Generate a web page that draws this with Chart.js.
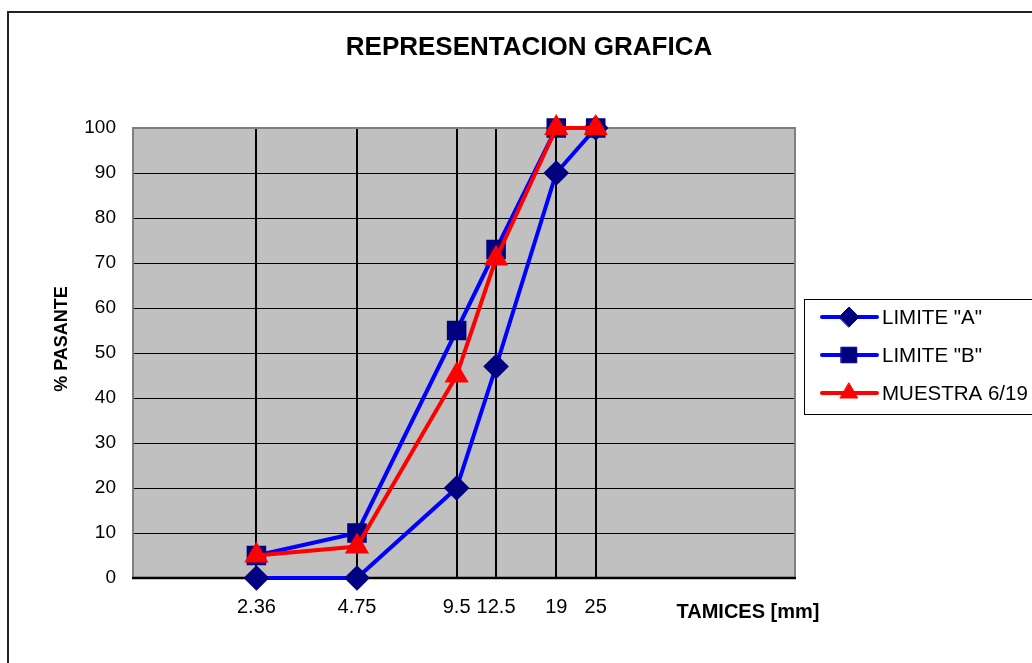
<!DOCTYPE html>
<html>
<head>
<meta charset="utf-8">
<script src="https://cdn.jsdelivr.net/npm/chart.js@4"></script>
<style>
html,body{margin:0;padding:0;background:#fff;}
#wrap{width:1032px;height:663px;position:relative;}
</style>
</head>
<body>
<div id="wrap"><canvas id="c" width="1032" height="663"></canvas></div>
<script>
const chartTitle = 'REPRESENTACION GRAFICA';
const xTitle = 'TAMICES [mm]';
const yTitle = '% PASANTE';
const sieves = [2.36, 4.75, 9.5, 12.5, 19, 25];
const sieveLabels = ['2.36', '4.75', '9.5', '12.5', '19', '25'];
const limiteA = [0, 0, 20, 47, 90, 100];
const limiteB = [5, 10, 55, 73, 100, 100];
const muestra = [5, 7, 45, 71, 100, 100];
const seriesNames = ['LIMITE "A"', 'LIMITE "B"', 'MUESTRA 6/19'];

const toPts = arr => sieves.map((s, i) => ({x: s, y: arr[i]}));
const FONT = '"Liberation Sans", Arial, sans-serif';

const decor = {
  id: 'decor',
  beforeDraw(chart) {
    const {ctx, chartArea: a} = chart;
    ctx.save();
    ctx.fillStyle = '#fff';
    ctx.fillRect(0, 0, chart.width, chart.height);
    ctx.fillStyle = '#C0C0C0';
    ctx.fillRect(a.left, a.top, a.right - a.left, a.bottom - a.top);
    ctx.restore();
  },
  beforeDatasetsDraw(chart) {
    const {ctx, chartArea: a} = chart;
    ctx.save();
    ctx.strokeStyle = '#808080';
    ctx.lineWidth = 2;
    ctx.beginPath();
    ctx.moveTo(a.left, a.bottom);
    ctx.lineTo(a.left, a.top);
    ctx.lineTo(a.right, a.top);
    ctx.lineTo(a.right, a.bottom);
    ctx.stroke();
    ctx.strokeStyle = '#000';
    ctx.lineWidth = 2.5;
    ctx.beginPath();
    ctx.moveTo(a.left - 1, a.bottom);
    ctx.lineTo(a.right + 1, a.bottom);
    ctx.stroke();
    ctx.restore();
  },
  afterDraw(chart) {
    const {ctx} = chart;
    ctx.save();
    ctx.strokeStyle = '#222';
    ctx.lineWidth = 2;
    ctx.strokeRect(8, 12, 1040, 670);
    ctx.fillStyle = '#000';
    ctx.font = 'bold 26px ' + FONT;
    ctx.textAlign = 'center';
    ctx.textBaseline = 'middle';
    ctx.fillText(chartTitle, 529, 48);
    ctx.font = 'bold 20px ' + FONT;
    ctx.fillText(xTitle, 748, 612);
    ctx.save();
    ctx.translate(62, 339);
    ctx.rotate(-Math.PI / 2);
    ctx.font = 'bold 18px ' + FONT;
    ctx.fillText(yTitle, 0, 0);
    ctx.restore();
    const lx = 804, ly = 299, lw = 240, lh = 115;
    ctx.fillStyle = '#fff';
    ctx.fillRect(lx, ly, lw, lh);
    ctx.strokeStyle = '#000';
    ctx.lineWidth = 1;
    ctx.strokeRect(lx + 0.5, ly + 0.5, lw, lh);
    const rows = [317, 355, 393];
    chart.data.datasets.forEach((ds, i) => {
      const y = rows[i];
      ctx.strokeStyle = ds.borderColor;
      ctx.lineWidth = 4;
      ctx.lineCap = 'round';
      ctx.beginPath();
      ctx.moveTo(822, y);
      ctx.lineTo(877, y);
      ctx.stroke();
      ctx.fillStyle = ds.pointBackgroundColor;
      ctx.strokeStyle = ds.pointBorderColor;
      ctx.lineWidth = 1;
      Chart.helpers.drawPoint(ctx, {pointStyle: ds.pointStyle, radius: ds.pointRadius, rotation: 0, borderWidth: 1}, 849, y);
      ctx.fillStyle = '#000';
      ctx.font = '20.5px ' + FONT;
      ctx.textAlign = 'left';
      ctx.textBaseline = 'middle';
      ctx.fillText(ds.label, 882, y + 1);
    });
    ctx.restore();
  }
};

new Chart(document.getElementById('c'), {
  type: 'line',
  data: {
    datasets: [
      {label: seriesNames[0], data: toPts(limiteA), borderColor: '#0000FF', borderWidth: 4,
       pointStyle: 'rectRot', pointRadius: 10, pointBackgroundColor: '#000080', pointBorderColor: '#000080',
       order: 2, clip: false},
      {label: seriesNames[1], data: toPts(limiteB), borderColor: '#0000FF', borderWidth: 4,
       pointStyle: 'rect', pointRadius: 11, pointBackgroundColor: '#000080', pointBorderColor: '#000080',
       order: 1, clip: false},
      {label: seriesNames[2], data: toPts(muestra), borderColor: '#FF0000', borderWidth: 4,
       pointStyle: 'triangle', pointRadius: 10, pointBackgroundColor: '#FF0000', pointBorderColor: '#FF0000',
       order: 0, clip: false}
    ]
  },
  options: {
    responsive: false,
    animation: false,
    layout: {padding: {top: 128, right: 237, bottom: 0, left: 0}},
    plugins: {legend: {display: false}, title: {display: false}, tooltip: {enabled: false}},
    scales: {
      x: {
        type: 'logarithmic', min: 1, max: 100,
        afterBuildTicks: s => { s.ticks = sieves.map(v => ({value: v})); },
        afterFit: s => { s.height = 85; },
        ticks: {
          autoSkip: false, maxRotation: 0, padding: 17, color: '#000',
          font: {family: FONT, size: 20},
          callback: (v) => { const i = sieves.indexOf(v); return i >= 0 ? sieveLabels[i] : ''; }
        },
        grid: {color: '#000', lineWidth: 2, drawTicks: false},
        border: {display: false}
      },
      y: {
        min: 0, max: 100,
        afterFit: s => { s.width = 133; },
        ticks: {
          stepSize: 10, padding: 17, color: '#000',
          font: {family: FONT, size: 19}
        },
        grid: {color: '#000', lineWidth: 1, drawTicks: false},
        border: {display: false}
      }
    }
  },
  plugins: [decor]
});
</script>
</body>
</html>
